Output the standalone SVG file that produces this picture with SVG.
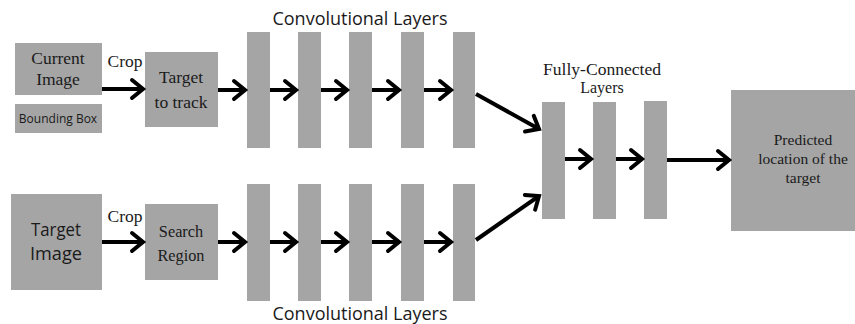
<svg xmlns="http://www.w3.org/2000/svg" width="855" height="324" viewBox="0 0 855 324">
<defs>
<style>
.b{fill:#a5a5a5;}
.s{font-family:"Liberation Serif","Times New Roman",serif;fill:#1a1a1a;text-anchor:middle;}
.a{font-family:"Open Sans","Liberation Sans",sans-serif;fill:#1a1a1a;text-anchor:middle;}
.c{stroke:#000;stroke-width:4;fill:none;}
</style>
<marker id="h" markerUnits="userSpaceOnUse" markerWidth="30" markerHeight="30" viewBox="-15 -15 30 30" refX="0" refY="0" orient="auto">
<path d="M-11,-9 L0,0 L-11,9" fill="none" stroke="#000" stroke-width="4" stroke-linecap="round" stroke-linejoin="miter"/>
</marker>
</defs>
<rect width="855" height="324" fill="#fff"/>
<g id="current-image"><rect class="b" x="15" y="43" width="87" height="52"/><text class="s" font-size="17.5" x="58" y="64">Current</text><text class="s" font-size="17.5" x="58" y="85">Image</text></g>
<g id="bounding-box"><rect class="b" x="15" y="104" width="87" height="29"/><text class="a" font-size="12" x="58" y="123">Bounding Box</text></g>
<g id="target-to-track"><rect class="b" x="145" y="52" width="73" height="75"/><text class="s" font-size="17.5" x="181" y="83">Target</text><text class="s" font-size="17.5" x="181" y="108">to track</text></g>
<g id="target-image"><rect class="b" x="11" y="194" width="91" height="96"/><text class="a" font-size="19" x="56" y="236" textLength="50" lengthAdjust="spacingAndGlyphs">Target</text><text class="a" font-size="19" x="56" y="260" textLength="52" lengthAdjust="spacingAndGlyphs">Image</text></g>
<g id="search-region"><rect class="b" x="145" y="204" width="73" height="76"/><text class="s" font-size="16.3" x="181" y="237">Search</text><text class="s" font-size="16.3" x="181" y="261">Region</text></g>
<g id="conv-top-label"><text class="a" font-size="18" x="360" y="25">Convolutional Layers</text></g>
<g id="conv-top">
<rect class="b" x="247" y="32" width="23" height="116"/>
<rect class="b" x="298" y="32" width="23" height="116"/>
<rect class="b" x="349" y="32" width="23" height="116"/>
<rect class="b" x="401" y="32" width="23" height="116"/>
<rect class="b" x="453" y="32" width="22" height="116"/>
</g>
<g id="conv-bottom">
<rect class="b" x="247" y="184" width="23" height="117"/>
<rect class="b" x="298" y="184" width="23" height="117"/>
<rect class="b" x="349" y="184" width="23" height="117"/>
<rect class="b" x="401" y="184" width="23" height="117"/>
<rect class="b" x="453" y="184" width="22" height="117"/>
</g>
<g id="conv-bottom-label"><text class="a" font-size="18" x="360" y="320">Convolutional Layers</text></g>
<g id="fc-label"><text class="s" font-size="16" x="602" y="75" textLength="118" lengthAdjust="spacingAndGlyphs">Fully-Connected</text><text class="s" font-size="16" x="602" y="93">Layers</text></g>
<g id="fc">
<rect class="b" x="542" y="102" width="23" height="117"/>
<rect class="b" x="593" y="102" width="23" height="117"/>
<rect class="b" x="644" y="101" width="23" height="118"/>
</g>
<g id="predicted"><rect class="b" x="731" y="90" width="124" height="141"/><text class="s" font-size="15.5" x="803" y="145">Predicted</text><text class="s" font-size="15.5" x="803" y="164">location of the</text><text class="s" font-size="15.5" x="803" y="183">target</text></g>
<g id="crop-labels"><text class="s" font-size="17.5" x="125" y="67">Crop</text><text class="s" font-size="17.5" x="125" y="222">Crop</text></g>
<g id="connectors">
<line class="c" x1="102" y1="89" x2="143" y2="89" marker-end="url(#h)"/>
<line class="c" x1="218" y1="90" x2="245" y2="90" marker-end="url(#h)"/>
<line class="c" x1="270" y1="90" x2="296" y2="90" marker-end="url(#h)"/>
<line class="c" x1="321" y1="90" x2="347" y2="90" marker-end="url(#h)"/>
<line class="c" x1="372" y1="90" x2="399" y2="90" marker-end="url(#h)"/>
<line class="c" x1="424" y1="90" x2="451" y2="90" marker-end="url(#h)"/>
<line class="c" x1="102" y1="242" x2="143" y2="242" marker-end="url(#h)"/>
<line class="c" x1="218" y1="242" x2="245" y2="242" marker-end="url(#h)"/>
<line class="c" x1="270" y1="242" x2="296" y2="242" marker-end="url(#h)"/>
<line class="c" x1="321" y1="242" x2="347" y2="242" marker-end="url(#h)"/>
<line class="c" x1="372" y1="242" x2="399" y2="242" marker-end="url(#h)"/>
<line class="c" x1="424" y1="242" x2="451" y2="242" marker-end="url(#h)"/>
<line class="c" x1="476" y1="94" x2="539" y2="129" marker-end="url(#h)"/>
<line class="c" x1="476" y1="240" x2="539" y2="196" marker-end="url(#h)"/>
<line class="c" x1="565" y1="159" x2="591" y2="159" marker-end="url(#h)"/>
<line class="c" x1="616" y1="159" x2="642" y2="159" marker-end="url(#h)"/>
<line class="c" x1="667" y1="160" x2="729" y2="160" marker-end="url(#h)"/>
</g>
</svg>
